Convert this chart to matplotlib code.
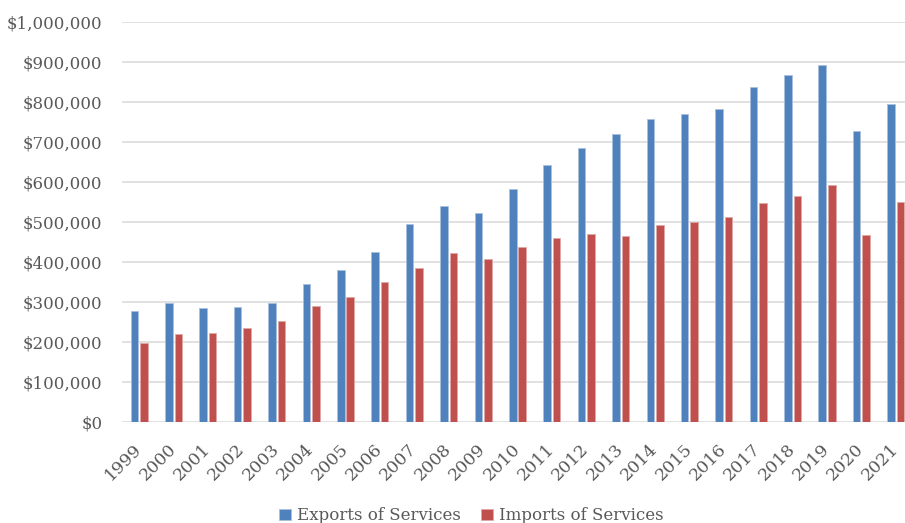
import numpy as np
import matplotlib
matplotlib.use("Agg")
import matplotlib.pyplot as plt
from matplotlib.ticker import FuncFormatter

years = [str(y) for y in range(1999, 2022)]
exports = [277, 297, 283, 287, 297, 344, 378, 423, 494, 539, 522, 582,
           643, 684, 719, 757, 769, 783, 837, 866, 891, 727, 795]
imports = [197, 220, 221, 233, 251, 289, 312, 348, 385, 421, 407, 437,
           458, 469, 464, 491, 498, 512, 548, 565, 593, 466, 549]
exports = [v * 1000 for v in exports]
imports = [v * 1000 for v in imports]

blue = '#4F81BD'
red = '#C0504D'
text_gray = '#595959'

plt.rcParams['font.family'] = ['DejaVu Serif']

fig = plt.figure(figsize=(9.05, 5.23), dpi=100)
ax = fig.add_axes([0.1348, 0.1937, 0.874, 0.7648])

x = np.arange(len(years))
w = 0.22
off = 0.138
ax.bar(x - off, exports, width=w, color=blue, edgecolor='#a9c0de',
       linewidth=0.6, label='Exports of Services', zorder=3)
ax.bar(x + off, imports, width=w, color=red, edgecolor='#e0a8a6',
       linewidth=0.6, label='Imports of Services', zorder=3)

ax.set_xlim(-0.5, len(years) - 0.5)
ax.set_ylim(0, 1000000)
ax.set_yticks(np.arange(0, 1000001, 100000))
ax.yaxis.set_major_formatter(FuncFormatter(lambda v, p: f'${v:,.0f}'))
ax.grid(True, axis='y', color='#d9d9d9', linewidth=1.1, zorder=0)
ax.set_axisbelow(True)

for s in ax.spines.values():
    s.set_visible(False)

ax.set_xticks(x)
ax.set_xticklabels(years, rotation=45, ha='right', va='center',
                   rotation_mode='anchor')
ax.tick_params(axis='x', length=0, pad=18, labelsize=12.5, colors=text_gray)
ax.tick_params(axis='y', length=0, pad=14, labelsize=12, colors=text_gray)

fig.legend(loc='center', bbox_to_anchor=(0.521, 0.014), ncol=2, frameon=False,
           fontsize=12, labelcolor=text_gray, handlelength=0.7,
           handleheight=0.7, handletextpad=0.4, columnspacing=1.2)

fig.savefig('out.png', dpi=100)
